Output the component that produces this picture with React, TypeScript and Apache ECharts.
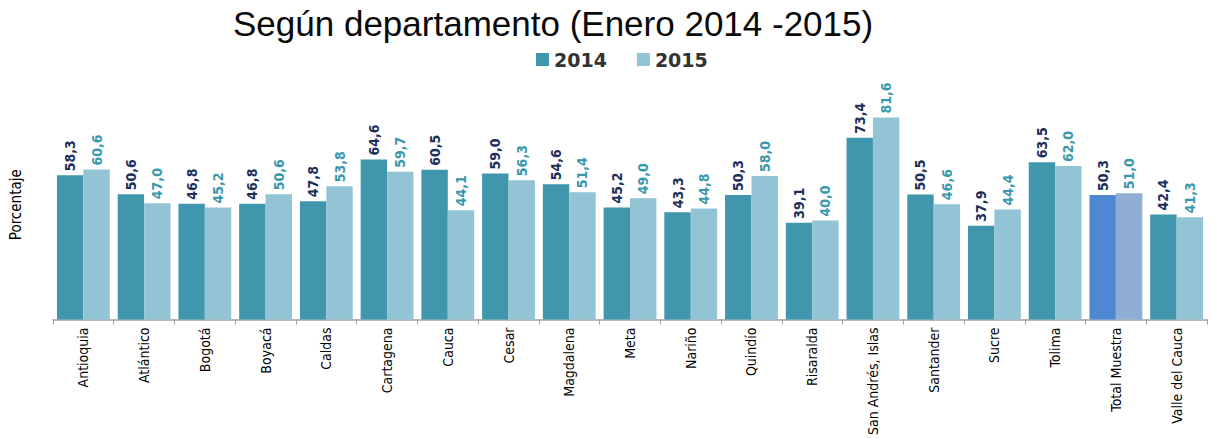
import React, { useEffect, useRef } from "react";
import * as echarts from "echarts";

const categories = [
  "Antioquia", "Atlántico", "Bogotá", "Boyacá", "Caldas", "Cartagena", "Cauca", "Cesar",
  "Magdalena", "Meta", "Nariño", "Quindío", "Risaralda", "San Andrés, Islas", "Santander",
  "Sucre", "Tolima", "Total Muestra", "Valle del Cauca",
];
const values2014 = [58.3, 50.6, 46.8, 46.8, 47.8, 64.6, 60.5, 59.0, 54.6, 45.2, 43.3, 50.3, 39.1, 73.4, 50.5, 37.9, 63.5, 50.3, 42.4];
const values2015 = [60.6, 47.0, 45.2, 50.6, 53.8, 59.7, 44.1, 56.3, 51.4, 49.0, 44.8, 58.0, 40.0, 81.6, 46.6, 44.4, 62.0, 51.0, 41.3];
const seriesNames = ["2014", "2015"];
const highlightCategory = "Total Muestra";

const C2014 = "#3f96ad";
const C2015 = "#93c4d6";
const H2014 = "#4f88d2";
const H2015 = "#90add6";
const NARROW = "'Liberation Sans Narrow', 'DejaVu Sans Condensed', 'Arial Narrow', sans-serif";

export default function App() {
  const ref = useRef<HTMLDivElement>(null);
  useEffect(() => {
    document.body.style.margin = "0";
    if (!ref.current) return;
    const chart = echarts.init(ref.current, undefined, { renderer: "svg" });
    const mk = (vals: number[], hi: string) =>
      vals.map((v, i) =>
        categories[i] === highlightCategory ? { value: v, itemStyle: { color: hi } } : v
      );
    const lbl = (color: string) => ({
      show: true,
      position: "top",
      rotate: 90,
      align: "left",
      verticalAlign: "middle",
      distance: 4,
      color,
      fontFamily: NARROW,
      fontWeight: "bold",
      fontSize: 14,
      formatter: (p: any) => Number(p.value).toFixed(1).replace(".", ","),
    });
    chart.setOption({
      animation: false,
      title: {
        text: "Según departamento (Enero 2014 -2015)",
        left: 228,
        top: 1,
        textStyle: { fontFamily: "'Liberation Sans', Arial, sans-serif", fontSize: 35, fontWeight: "normal", color: "#0a0a0a" },
      },
      legend: {
        data: seriesNames,
        top: 45,
        left: 531,
        itemWidth: 13,
        itemHeight: 13,
        itemGap: 30,
        icon: "rect",
        textStyle: { fontFamily: "'DejaVu Sans', sans-serif", fontWeight: "bold", fontSize: 19, color: "#333" },
      },
      grid: { left: 52, right: 7, top: 72, bottom: 118, containLabel: false },
      xAxis: {
        type: "category",
        data: categories,
        axisLine: { lineStyle: { color: "#a0a0a0", width: 1.5 } },
        axisTick: { show: true, length: 5, lineStyle: { color: "#a0a0a0" } },
        axisLabel: {
          rotate: 90,
          interval: 0,
          margin: 8,
          color: "#000",
          fontFamily: NARROW,
          fontSize: 14,
        },
      },
      yAxis: {
        type: "value",
        min: 0,
        max: 100,
        name: "Porcentaje",
        nameLocation: "middle",
        nameGap: 30,
        nameTextStyle: { fontFamily: NARROW, fontSize: 15, color: "#000", padding: [0, 18, 0, 0] },
        axisLine: { show: false },
        axisTick: { show: false },
        axisLabel: { show: false },
        splitLine: { show: false },
      },
      series: [
        {
          name: seriesNames[0],
          type: "bar",
          data: mk(values2014, H2014),
          itemStyle: { color: C2014 },
          barGap: "0%",
          barCategoryGap: "13%",
          label: lbl("#1c2f5a"),
        },
        {
          name: seriesNames[1],
          type: "bar",
          data: mk(values2015, H2015),
          itemStyle: { color: C2015 },
          label: lbl("#3a98ad"),
        },
      ],
    });
    return () => chart.dispose();
  }, []);
  return <div ref={ref} style={{ width: 1214, height: 438 }} />;
}
